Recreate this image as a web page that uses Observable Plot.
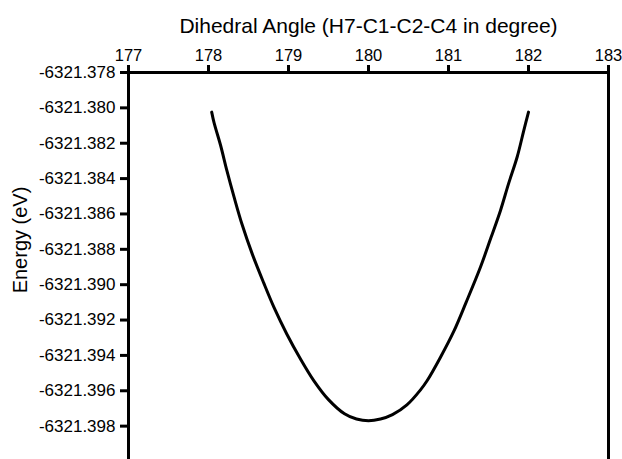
<!DOCTYPE html>
<html>
<head>
<meta charset="utf-8">
<script src="https://cdn.jsdelivr.net/npm/d3@7"></script>
<script src="https://cdn.jsdelivr.net/npm/@observablehq/plot@0.6"></script>
<style>
  html, body { margin: 0; padding: 0; background: white; }
  #chart svg { display: block; }
</style>
</head>
<body>
<div id="chart"></div>
<script>
const xTitle = "Dihedral Angle (H7-C1-C2-C4 in degree)";
const yTitle = "Energy (eV)";
const xTicks = [177, 178, 179, 180, 181, 182, 183];
const yTicks = [-6321.378, -6321.380, -6321.382, -6321.384, -6321.386, -6321.388,
                -6321.390, -6321.392, -6321.394, -6321.396, -6321.398];
const yDomain = [-6321.400, -6321.378];

const angles = [178.04, 178.07, 178.15, 178.23, 178.32, 178.42, 178.55, 178.69, 178.82, 178.98,
                179.15, 179.32, 179.50, 179.70, 179.85, 180.00, 180.15, 180.30, 180.48, 180.65,
                180.73, 180.90, 181.07, 181.22, 181.40, 181.53, 181.65, 181.75, 181.86, 181.94, 182.00];
const energies = [-6321.38024, -6321.38085, -6321.3821, -6321.38355, -6321.38505, -6321.3866, -6321.3883,
                  -6321.3899, -6321.3913, -6321.3928, -6321.3942, -6321.39545, -6321.3965, -6321.3973,
                  -6321.3976, -6321.3977, -6321.3976, -6321.39735, -6321.3968, -6321.39595, -6321.39545,
                  -6321.3941, -6321.3926, -6321.3910, -6321.3890, -6321.38735, -6321.3858, -6321.3843,
                  -6321.38275, -6321.3813, -6321.38024];

const data = angles.map((a, i) => ({angle: a, energy: energies[i]}));

const chart = Plot.plot({
  width: 622,
  height: 459,
  marginTop: 72,
  marginLeft: 128,
  marginRight: 14,
  marginBottom: -2,
  x: {domain: [xTicks[0], xTicks[xTicks.length - 1]]},
  y: {domain: yDomain},
  style: {fontFamily: "'Liberation Sans', Arial, sans-serif", color: "black", background: "white"},
  marks: [
    Plot.axisX(xTicks, {anchor: "top", tickSize: 8, strokeWidth: 3, tickPadding: 4, fontSize: 16.5, label: null}),
    Plot.axisY(yTicks, {anchor: "left", tickSize: 8, strokeWidth: 3, tickPadding: 5, fontSize: 17,
                        tickFormat: d => d.toFixed(3), label: null}),
    Plot.ruleY([yTicks[0]], {strokeWidth: 3}),
    Plot.ruleX([xTicks[0], xTicks[xTicks.length - 1]], {strokeWidth: 3}),
    Plot.line(data, {x: "angle", y: "energy", stroke: "black", strokeWidth: 3, curve: "catmull-rom"}),
    Plot.text([xTitle], {frameAnchor: "top", textAnchor: "middle", lineAnchor: "middle", dy: -46, fontSize: 21, fill: "black"}),
    Plot.text([yTitle], {frameAnchor: "left", textAnchor: "middle", lineAnchor: "middle", dx: -108, dy: -27, rotate: -90, fontSize: 20, fill: "black"})
  ]
});
document.getElementById("chart").appendChild(chart);
</script>
</body>
</html>
